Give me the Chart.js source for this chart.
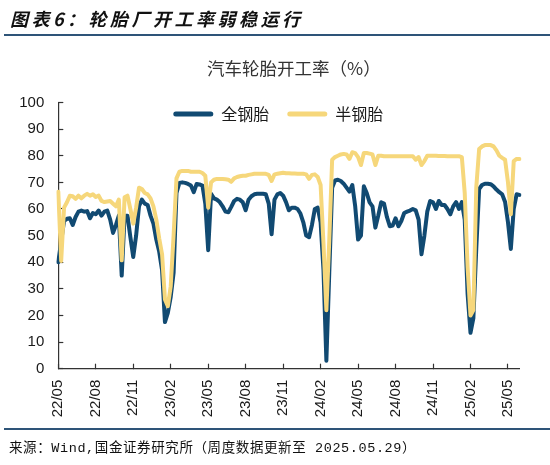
<!DOCTYPE html>
<html><head><meta charset="utf-8">
<script src="https://cdn.jsdelivr.net/npm/chart.js@4.4.1/dist/chart.umd.min.js"></script>
<style>
html,body{margin:0;padding:0;background:#fff;}
#wrap{position:relative;width:550px;height:465px;overflow:hidden;background:#fff;}
#c{position:absolute;left:0;top:0;}
.hdr{position:absolute;left:10px;top:7px;font-family:"Noto Sans CJK SC";font-weight:bold;font-style:italic;font-size:18px;line-height:22px;letter-spacing:3.5px;color:#111;white-space:nowrap;}
.rule{position:absolute;left:4px;right:0;height:2px;background:#2e5478;}
.src{position:absolute;left:9px;top:440px;font-family:"Liberation Mono","Noto Sans CJK SC";font-size:13.5px;line-height:18px;letter-spacing:0.6px;color:#111;white-space:nowrap;}
</style></head>
<body><div id="wrap">
<canvas id="c" width="550" height="465"></canvas>
<div class="hdr">图表6：轮胎厂开工率弱稳运行</div>
<div class="rule" style="top:34px"></div>
<div class="rule" style="top:428px"></div>
<div class="src">来源：Wind,国金证券研究所（周度数据更新至 2025.05.29）</div>
</div>
<script>
// ---- data ----
const chartTitle = '汽车轮胎开工率（%）';
const seriesNames = ['全钢胎', '半钢胎'];
const tickLabels = ['22/05','22/08','22/11','23/02','23/05','23/08','23/11','24/02','24/05','24/08','24/11','25/02','25/05'];
const firstWeek = '2022-05-05';
const lastWeek = '2025-05-29';
const allSteel = [
 40,48,55.5,56.3,56.5,54,57,59,59.4,59,
 59.2,56.5,58.5,58,59.4,57.5,59,59.4,56,51,
 54,57.5,35,57.5,57.5,49.5,42,50,61,63.5,
 62,61.5,57.5,54.5,48.5,44,37,17.5,21,27,
 36,66,69.8,70,69.8,69.4,68.8,66.3,69.4,69.2,
 68.8,62,44.5,65.7,64,63.5,62.6,61,59,58.8,
 60.8,63,63.8,63.5,62.5,59.5,63.5,64.8,65.5,65.7,
 65.7,65.7,65.5,62,50.5,63.5,65.5,66,65,62.6,
 59.5,60.5,60.5,60,58.3,55,50,49.4,54,60,
 60.5,55,37,3,36,68,70.7,71,70.5,69.5,
 68,66.5,69,61,48.5,50,68.5,66,62.5,61,
 53,57.5,62.5,62,57,53.5,53.8,56.5,53.5,55.5,
 58.5,59,59.4,60,59.5,56,43,50,59,63,
 62.5,60,63,61.5,61.5,60,58,61,62.6,60,
 62.6,56,28,13.5,19,45,67.5,69,69.5,69.5,
 69.3,68.5,67.3,66.3,65.5,62.6,55,45,60,65.5,
 65.3
];
const semiSteel = [
 66.5,40.5,60.5,62.5,65,64.8,63.8,65,64,65,
 65.7,65,65.5,64.5,65,63,62.6,62.8,63,62,
 61,63.5,40.7,64.4,65,60,54.5,60.5,68,67.5,
 66,65.5,64,61,56,49,43,26,23.5,31,
 50,71.5,74,74.3,74.3,74.3,74,74,74,74,
 73.5,72.5,60.5,70,71,71.3,71.3,71.3,71.2,71,
 70.2,71.5,72,72.3,72.5,72.5,72.8,73,73.2,73.2,
 73.2,73.2,73.2,72.8,70.5,73,73.2,73.4,73.6,73.4,
 73.4,73.3,73.3,73.2,73.2,73.2,73,71.3,72.8,73,
 72,69,47,22,48,78.5,79.5,80,80.5,80.7,
 80.5,78.8,81.3,81,79.5,76.5,81,81,80.8,80.5,
 76.5,80,80,79.8,79.8,79.8,79.8,79.8,79.8,79.8,
 79.8,79.8,79.8,79.8,78.5,79.5,76.5,78,80,80,
 80,80,79.9,79.9,79.9,79.8,79.8,79.8,79.8,79.8,
 79.5,66,38,20,22,68,82.5,83.5,84,84,
 84,83.5,82,80,79.2,78.5,70,58,78,78.8,
 78.8
];

// weekly categories
const weeks = [];
(function(){
  const d = new Date(firstWeek + 'T00:00:00Z');
  const end = new Date(lastWeek + 'T00:00:00Z');
  while (d <= end) { weeks.push(d.toISOString().slice(0,10)); d.setUTCDate(d.getUTCDate() + 7); }
})();
const TICK_EVERY = 13;

// ---- style ----
const BLUE = '#114a72';
const YELLOW = '#f6d77b';
const AXIS = '#333333';

const placeBoxes = {
  id: 'placeBoxes',
  afterLayout(chart) {
    const lg = chart.legend;
    if (lg) {
      const pad = lg.options.labels.padding;
      const fs = lg.options.labels.font.size;
      lg.top = 114 - pad - fs / 2;
      lg.bottom = lg.top + pad * 2 + fs;
      lg.left = 278.3 - 275;
      lg.right = 278.3 + 275;
    }
    const t = chart.titleBlock;
    if (t) { t.left += 5; t.right += 5; }
  }
};

new Chart(document.getElementById('c'), {
  type: 'line',
  data: {
    labels: weeks,
    datasets: [
      { label: seriesNames[0], data: allSteel, borderColor: BLUE, backgroundColor: BLUE,
        borderWidth: 4, pointRadius: 0, tension: 0, order: 1, borderJoinStyle: 'round', borderCapStyle: 'round' },
      { label: seriesNames[1], data: semiSteel, borderColor: YELLOW, backgroundColor: YELLOW,
        borderWidth: 4, pointRadius: 0, tension: 0, order: 0, borderJoinStyle: 'round', borderCapStyle: 'round' }
    ]
  },
  options: {
    responsive: false,
    animation: false,
    devicePixelRatio: 1,
    layout: { padding: { top: 40, left: 0, right: 30.5, bottom: 0 } },
    plugins: {
      tooltip: { enabled: false },
      title: {
        display: true, text: chartTitle, fullSize: false,
        color: '#333', font: { family: 'Noto Sans CJK SC', size: 17.5, weight: 'normal', lineHeight: 1.2 },
        padding: { top: 18.3, bottom: 22.2 }
      },
      legend: {
        display: true, position: 'top', fullSize: false, maxHeight: 1,
        labels: {
          boxWidth: 40, boxHeight: 5, padding: 18, useBorderRadius: true, borderRadius: 2.5,
          color: '#1a1a1a', font: { family: 'Noto Sans CJK SC', size: 16 },
          sort: (a, b) => a.datasetIndex - b.datasetIndex,
          generateLabels(chart) {
            const items = Chart.defaults.plugins.legend.labels.generateLabels(chart);
            items.forEach(it => { it.lineWidth = 0; it.fillStyle = it.strokeStyle; });
            return items;
          }
        }
      }
    },
    scales: {
      x: {
        type: 'category',
        grid: { drawOnChartArea: false, drawTicks: true, tickLength: -5, tickColor: AXIS, tickWidth: 1.2 },
        border: { color: AXIS, width: 1.2 },
        ticks: {
          autoSkip: false, maxRotation: 90, minRotation: 90, padding: 16,
          color: '#1a1a1a', font: { family: 'Liberation Sans', size: 15 },
          callback: (v, i) => (i % TICK_EVERY === 0 ? tickLabels[i / TICK_EVERY] : null)
        },
        afterFit(s) { s.height = 465 - 368.7; }
      },
      y: {
        min: 0, max: 100,
        grid: { drawOnChartArea: false, drawTicks: true, tickLength: -5, tickColor: AXIS, tickWidth: 1.2 },
        border: { color: AXIS, width: 1.2 },
        ticks: { stepSize: 10, padding: 19, color: '#1a1a1a', font: { family: 'Liberation Sans', size: 15 } },
        afterFit(s) { s.width = 58.3; }
      }
    }
  },
  plugins: [placeBoxes]
});
</script>
</body></html>
